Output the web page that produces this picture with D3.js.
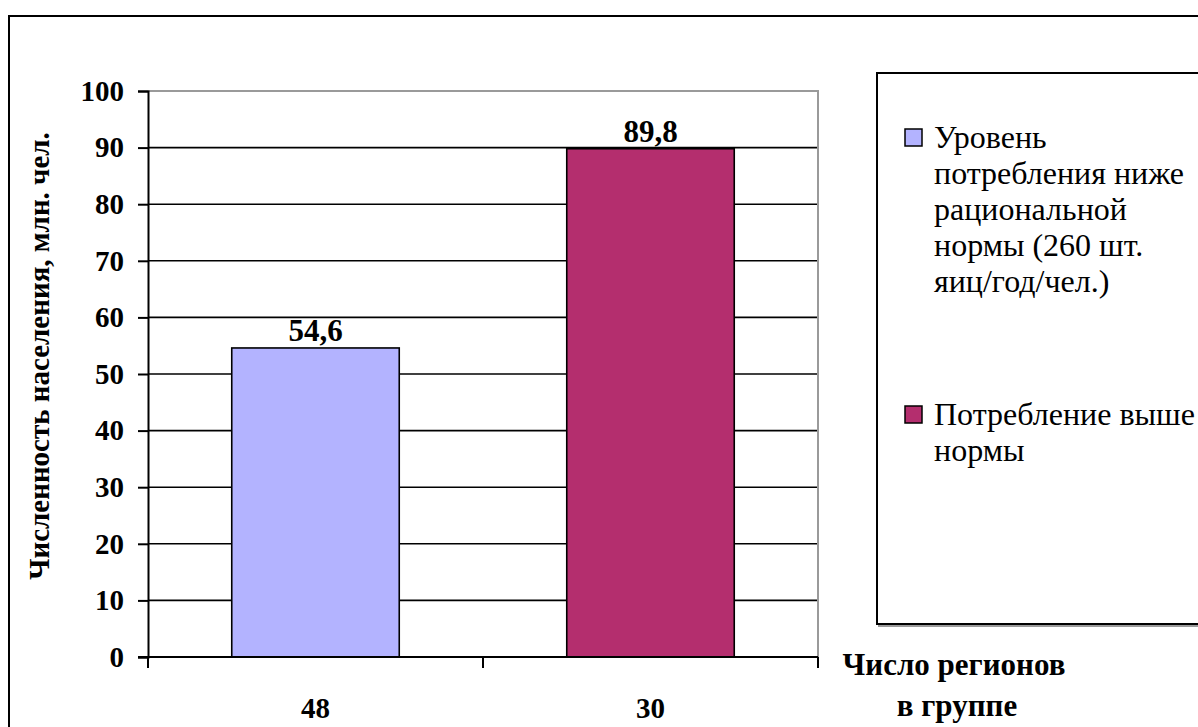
<!DOCTYPE html>
<html>
<head>
<meta charset="utf-8">
<script src="https://cdn.jsdelivr.net/npm/d3@7"></script>
<style>
  html, body { margin: 0; padding: 0; background: #fff; }
  svg { display: block; }
</style>
</head>
<body>
<svg id="chart" width="1198" height="727"></svg>
<script>
// Population by egg-consumption group (million people)
const categories = ["48", "30"];            // number of regions in the group
const values = [54.6, 89.8];
const valueLabels = ["54,6", "89,8"];
const seriesNames = [
  ["Уровень", "потребления ниже", "рациональной", "нормы (260 шт.", "яиц/год/чел.)"],
  ["Потребление выше", "нормы"]
];
const colors = ["#b3b3ff", "#b42e6e"];
const yTicks = [0, 10, 20, 30, 40, 50, 60, 70, 80, 90, 100];

const FONT = "'Liberation Serif', Tinos, 'Times New Roman', Times, 'Nimbus Roman', 'Noto Serif', 'DejaVu Serif', FreeSerif, 'Liberation Sans', serif";

const svg = d3.select("#chart").style("font-family", FONT);

// outer frame
svg.append("rect")
  .attr("x", 9).attr("y", 16).attr("width", 1400).attr("height", 900)
  .attr("fill", "none").attr("stroke", "#000").attr("stroke-width", 2);

const plot = { left: 148, right: 818, top: 91, bottom: 657 };

const y = d3.scaleLinear().domain([0, 100]).range([plot.bottom, plot.top]);
const x = d3.scaleBand().domain(categories)
  .range([plot.left, plot.right]).paddingInner(0.5).paddingOuter(0.25);

// grid lines
svg.append("g").selectAll("line").data(yTicks.filter(d => d > 0 && d < 100)).join("line")
  .attr("x1", plot.left).attr("x2", plot.right)
  .attr("y1", d => y(d)).attr("y2", d => y(d))
  .attr("stroke", "#000").attr("stroke-width", 1.6);

// plot area top / right border
svg.append("path")
  .attr("d", `M${plot.left},${y(100)}H${plot.right}V${plot.bottom}`)
  .attr("fill", "none").attr("stroke", "#9a9a9a").attr("stroke-width", 2);

// bars
svg.append("g").selectAll("rect").data(values).join("rect")
  .attr("x", (d, i) => x(categories[i]))
  .attr("width", x.bandwidth())
  .attr("y", d => y(d))
  .attr("height", d => y(0) - y(d))
  .attr("fill", (d, i) => colors[i])
  .attr("stroke", "#000").attr("stroke-width", 1.6);

// value labels
svg.append("g").selectAll("text").data(values).join("text")
  .style("font-family", FONT)
  .attr("x", (d, i) => x(categories[i]) + x.bandwidth() / 2)
  .attr("y", d => y(d) - 7)
  .attr("text-anchor", "middle")
  .attr("font-weight", "bold").attr("font-size", 31)
  .text((d, i) => valueLabels[i]);

// y axis
const yAxis = d3.axisLeft(y).tickValues(yTicks).tickSize(10).tickPadding(14);
const yg = svg.append("g").attr("transform", `translate(${plot.left},0)`).call(yAxis);
yg.attr("font-family", null).style("font-family", FONT);
yg.select(".domain").attr("stroke", "#000").attr("stroke-width", 2);
yg.selectAll(".tick line").attr("stroke", "#000").attr("stroke-width", 2);
yg.selectAll(".tick text")
  .style("font-family", FONT)
  .attr("font-weight", "bold").attr("font-size", 29).attr("fill", "#000");

// x axis: ticks at category boundaries
svg.append("line")
  .attr("x1", plot.left - 10).attr("x2", plot.right)
  .attr("y1", plot.bottom).attr("y2", plot.bottom)
  .attr("stroke", "#000").attr("stroke-width", 2);
const boundaries = [plot.left, (x(categories[0]) + x.bandwidth() + x(categories[1])) / 2, plot.right];
svg.append("g").selectAll("line").data(boundaries).join("line")
  .attr("x1", d => d).attr("x2", d => d)
  .attr("y1", plot.bottom).attr("y2", plot.bottom + 11)
  .attr("stroke", "#000").attr("stroke-width", 2);

svg.append("g").selectAll("text").data(categories).join("text")
  .style("font-family", FONT)
  .attr("x", d => x(d) + x.bandwidth() / 2)
  .attr("y", 718)
  .attr("text-anchor", "middle")
  .attr("font-weight", "bold").attr("font-size", 29)
  .text(d => d);

// x axis title
const xt = svg.append("text")
  .style("font-family", FONT)
  .attr("text-anchor", "middle")
  .attr("font-weight", "bold").attr("font-size", 31);
xt.append("tspan").attr("x", 954).attr("y", 675).text("Число регионов");
xt.append("tspan").attr("x", 957).attr("y", 716).text("в группе");

// y axis title
svg.append("text")
  .style("font-family", FONT)
  .attr("transform", `translate(49,356) rotate(-90)`)
  .attr("text-anchor", "middle")
  .attr("font-weight", "bold").attr("font-size", 29)
  .text("Численность населения, млн. чел.");

// legend
svg.append("rect")
  .attr("x", 879).attr("y", 75).attr("width", 400).attr("height", 551)
  .attr("fill", "none").attr("stroke", "#9a9a9a").attr("stroke-width", 2);
svg.append("rect")
  .attr("x", 877).attr("y", 73).attr("width", 400).attr("height", 551)
  .attr("fill", "#fff").attr("stroke", "#000").attr("stroke-width", 2);

const legendTops = [148, 425];
const lg = svg.append("g").selectAll("g").data(seriesNames).join("g");
lg.append("rect")
  .attr("x", 905).attr("y", (d, i) => legendTops[i] - 19)
  .attr("width", 17).attr("height", 17)
  .attr("fill", (d, i) => colors[i])
  .attr("stroke", "#000").attr("stroke-width", 1.5);
lg.append("text")
  .style("font-family", FONT)
  .attr("font-size", 32)
  .each(function(lines, i) {
    d3.select(this).selectAll("tspan").data(lines).join("tspan")
      .attr("x", 934)
      .attr("y", (l, j) => legendTops[i] + j * 36)
      .text(l => l);
  });
</script>
</body>
</html>
